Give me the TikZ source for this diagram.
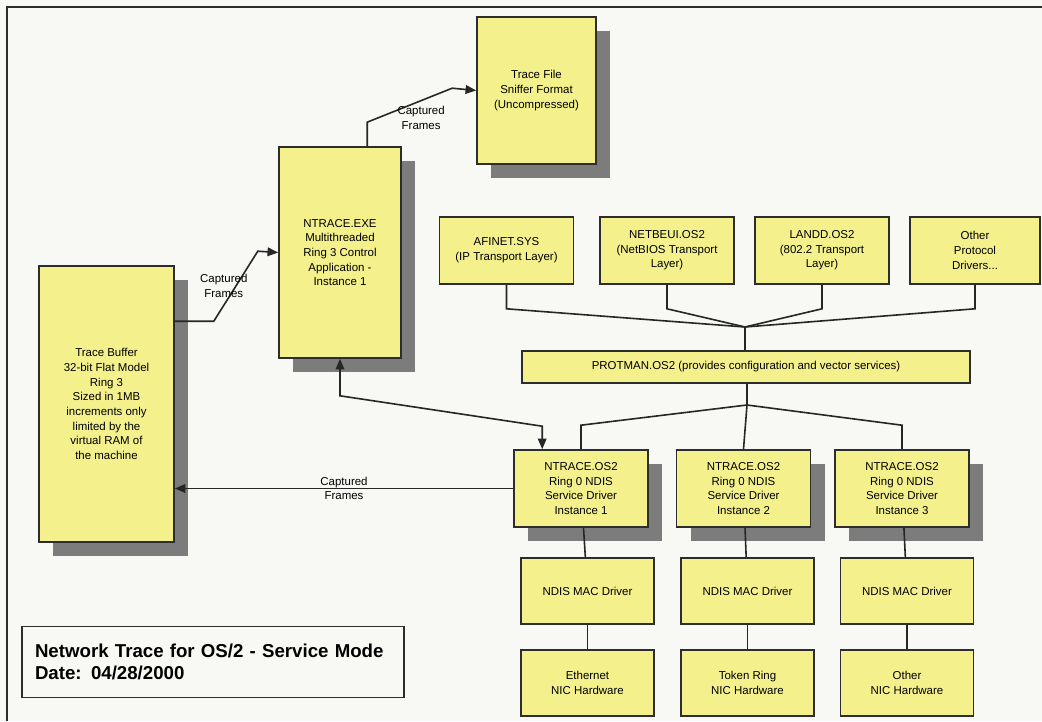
\documentclass[tikz,border=0pt]{standalone}
\usepackage{fontspec}
\setmainfont{Liberation Sans}
\usetikzlibrary{arrows.meta, calc, shadows}
\definecolor{boxyellow}{RGB}{244,241,141}
\definecolor{shadowgray}{RGB}{124,124,124}
\definecolor{edgegray}{RGB}{45,45,45}
\definecolor{paper}{RGB}{248,249,245}
\newlength{\px}
\setlength{\px}{0.75pt}

\begin{document}
\begin{tikzpicture}[
    x=0.75pt, y=-0.75pt,
    >={Triangle[length=8pt, width=6.5pt]},
    every node/.style={font=\fontsize{8.6}{11}\selectfont},
    yelbox/.style={draw=edgegray, line width=1.2pt, fill=boxyellow, align=center, inner sep=2pt},
    shadowbox/.style={yelbox, drop shadow={shadow xshift=14\px, shadow yshift=-14\px, fill=shadowgray, opacity=1}},
    protobox/.style={yelbox, minimum width=134\px, minimum height=67\px},
    instbox/.style={shadowbox, minimum width=134\px, minimum height=77\px},
    macbox/.style={yelbox, minimum width=133\px, minimum height=66\px},
    titlebox/.style={draw=edgegray, line width=0.9pt, minimum width=382\px, minimum height=71\px,
        text width=356\px, align=left, inner sep=0pt, font=\fontsize{14}{17}\selectfont\bfseries},
    wire/.style={draw=black!85, line width=1.2pt},
    lbl/.style={align=center, inner sep=1pt},
]
\useasboundingbox (0,0) rectangle (1042,721);
\fill[paper] (0,0) rectangle (1042,721);
\draw[edgegray, line width=1pt] (7,721) -- (7,7) -- (1042,7);

% capture path: buffer, control application, trace file
\node[shadowbox, minimum width=119\px, minimum height=147\px] (tracefile) at (536.5,90.5)
   {Trace File\\Sniffer Format\\(Uncompressed)};
\node[shadowbox, minimum width=122\px, minimum height=211\px] (ntraceexe) at (340,252.5)
   {NTRACE.EXE\\Multithreaded\\Ring 3 Control\\Application -\\Instance 1};
\node[shadowbox, minimum width=135\px, minimum height=276\px] (tracebuf) at (106.5,404)
   {Trace Buffer\\32-bit Flat Model\\Ring 3\\Sized in 1MB\\increments only\\limited by the\\virtual RAM of\\the machine};

% protocol drivers
\node[protobox] (afinet) at (506.5,250.5) {AFINET.SYS\\(IP Transport Layer)};
\node[protobox] (netbeui) at (667,250.5) {NETBEUI.OS2\\(NetBIOS Transport\\Layer)};
\node[protobox] (landd) at (822,250.5) {LANDD.OS2\\(802.2 Transport\\Layer)};
\node[protobox, minimum width=130\px] (otherproto) at (975,250.5) {Other\\Protocol\\Drivers...};

\node[yelbox, minimum width=448\px, minimum height=32\px] (protman) at (746,367)
   {PROTMAN.OS2 (provides configuration and vector services)};

% one service driver per adapter
\node[instbox] (inst1) at (581,488.5) {NTRACE.OS2\\Ring 0 NDIS\\Service Driver\\Instance 1};
\node[instbox] (inst2) at (743.5,488.5) {NTRACE.OS2\\Ring 0 NDIS\\Service Driver\\Instance 2};
\node[instbox] (inst3) at (902,488.5) {NTRACE.OS2\\Ring 0 NDIS\\Service Driver\\Instance 3};

\node[macbox] (mac1) at (587.5,591) {NDIS MAC Driver};
\node[macbox] (mac2) at (747.5,591) {NDIS MAC Driver};
\node[macbox] (mac3) at (907,591) {NDIS MAC Driver};

\node[macbox] (nic1) at (587.5,683) {Ethernet\\NIC Hardware};
\node[macbox] (nic2) at (747.5,683) {Token Ring\\NIC Hardware};
\node[macbox] (nic3) at (907,683) {Other\\NIC Hardware};

\node[titlebox] (title) at (213,662) {Network Trace for OS/2 - Service Mode\\Date: 04/28/2000};

% protocol drivers meet above PROTMAN
\coordinate (tophub) at (745,327);
\coordinate (lowhub) at (747,405);
\draw[wire] (afinet.south) -- ++(0,24) -- (tophub);
\draw[wire] (netbeui.south) -- ++(0,24) -- (tophub);
\draw[wire] (landd.south) -- ++(0,24) -- (tophub);
\draw[wire] (otherproto.south) -- ++(0,24) -- (tophub);
\draw[wire] (tophub) -- (tophub |- protman.north);

% PROTMAN fans out to the instances
\draw[wire] (protman.south -| lowhub) -- (lowhub);
\draw[wire] (inst1.north) -- ++(0,-24) -- (lowhub);
\draw[wire] (lowhub) -- (inst2.north);
\draw[wire] (inst3.north) -- ++(0,-24) -- (lowhub);

\draw[wire] (inst1) -- (mac1);
\draw[wire] (inst2) -- (mac2);
\draw[wire] (inst3) -- (mac3);
\draw[wire] (mac1) -- (nic1);
\draw[wire] (mac2) -- (nic2);
\draw[wire] (mac3) -- (nic3);

% control link between application and driver
\draw[wire, <->] (ntraceexe.south) -- ++(0,37) -- ($(inst1.north west)+(29,-23)$)
   -- ($(inst1.north west)+(29,0)$);

% captured frames
\draw[wire, ->] (inst1.west) -- node[lbl] (cap3) {Captured\\Frames} (inst1.west -| tracebuf.east);
\draw[wire, ->] ($(tracebuf.north east)+(0,56)$) -- ++(39,0)
   -- node[lbl, xshift=-9pt] (cap1) {Captured\\Frames} ++(44,-70) -- (ntraceexe.west);
\draw[wire, ->] ($(ntraceexe.north west)+(89,0)$) -- ++(0,-24)
   -- node[lbl, xshift=8.6pt, yshift=-9.4pt] (cap2) {Captured\\Frames} ++(85,-34) -- (tracefile.west);
\end{tikzpicture}
\end{document}
